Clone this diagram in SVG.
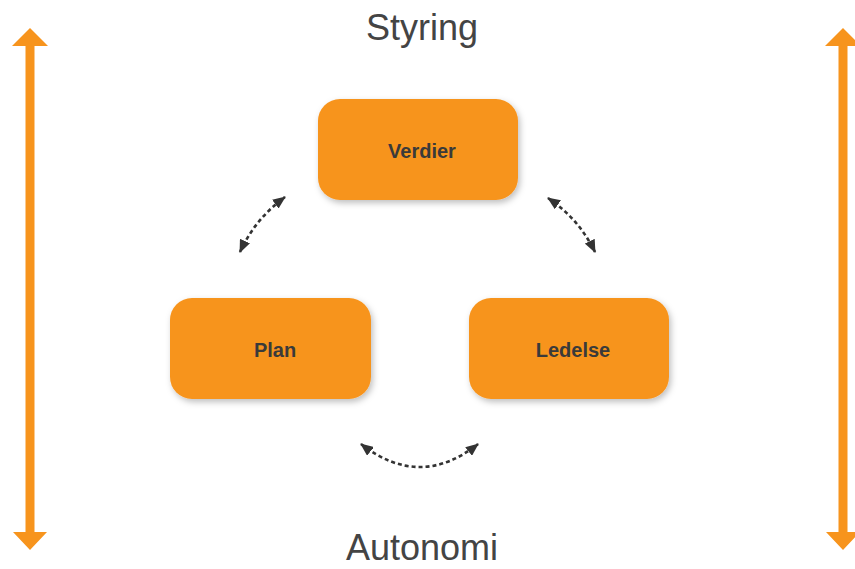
<svg xmlns="http://www.w3.org/2000/svg" width="855" height="569" viewBox="0 0 855 569">
<defs>
<style>
.box{fill:#F7941D;filter:url(#sh);}
.lbl{font-family:"Liberation Sans",Arial,sans-serif;font-weight:bold;font-size:20px;fill:#3a3a3a;text-anchor:middle;}
.axis{font-family:"Liberation Sans",Arial,sans-serif;font-size:36px;fill:#444;text-anchor:middle;}
.conn{fill:none;stroke:#333;stroke-width:2.6;stroke-dasharray:4 3;}
.big{fill:#F7941D;}
</style>
<filter id="sh" x="-20%" y="-20%" width="140%" height="150%">
<feDropShadow dx="2" dy="3" stdDeviation="3" flood-color="#000" flood-opacity="0.25"/>
</filter>
<marker id="ah" viewBox="0 0 13 11" refX="12" refY="5.5" markerWidth="13" markerHeight="11" markerUnits="userSpaceOnUse" orient="auto-start-reverse">
<path d="M0,0 L13,5.5 L0,11 Z" fill="#333"/>
</marker>
</defs>
<rect width="855" height="569" fill="#fff"/>
<g id="axis-left">
<polygon class="big" points="30,28 48,46 34.5,46 34.5,532 47,532 30,550 13,532 25.5,532 25.5,46 12,46"/>
</g>
<g id="axis-right">
<polygon class="big" points="843,28 861,46 847.5,46 847.5,532 860,532 843,550 826,532 838.5,532 838.5,46 825,46"/>
</g>
<text class="axis" x="422" y="40">Styring</text>
<text class="axis" x="422" y="560">Autonomi</text>
<g id="connectors">
<path class="conn" d="M240,252 Q255,219 285,197" marker-start="url(#ah)" marker-end="url(#ah)"/>
<path class="conn" d="M548,198 Q579,219 595,252" marker-start="url(#ah)" marker-end="url(#ah)"/>
<path class="conn" d="M361,444 Q420,490 478,444" marker-start="url(#ah)" marker-end="url(#ah)"/>
</g>
<g id="node-verdier">
<rect class="box" x="318" y="99" width="200" height="101" rx="22"/>
<text class="lbl" x="422" y="158">Verdier</text>
</g>
<g id="node-plan">
<rect class="box" x="170" y="298" width="201" height="101" rx="22"/>
<text class="lbl" x="275" y="357">Plan</text>
</g>
<g id="node-ledelse">
<rect class="box" x="469" y="298" width="200" height="101" rx="22"/>
<text class="lbl" x="573" y="357">Ledelse</text>
</g>
</svg>
